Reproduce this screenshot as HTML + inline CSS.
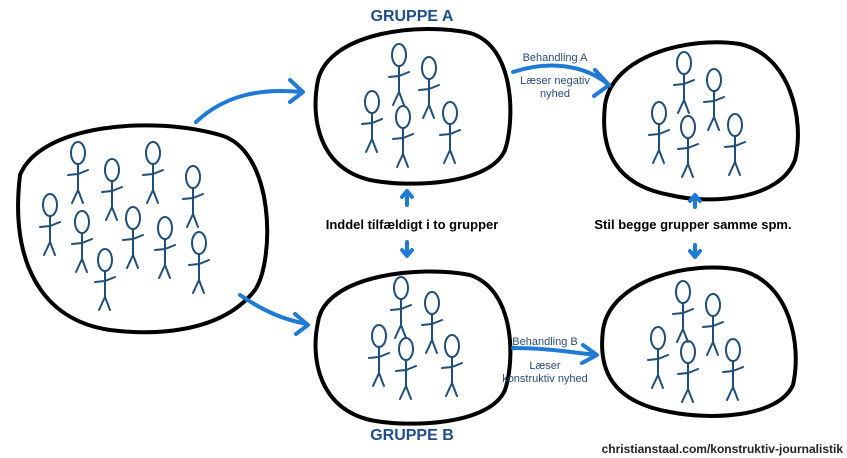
<!DOCTYPE html>
<html><head><meta charset="utf-8"><style>
html,body{margin:0;padding:0;background:#fff;width:847px;height:458px;overflow:hidden}
svg{display:block}
.t{font-family:"Liberation Sans",sans-serif}
</style></head><body>
<svg width="847" height="458" viewBox="0 0 847 458" xmlns="http://www.w3.org/2000/svg">
<defs>
<g id="f" fill="none" stroke="#1f4e79" stroke-width="2" stroke-linecap="round">
<ellipse cx="0" cy="0" rx="7" ry="11"/>
<path d="M0 11 L0 37 M-10 22 L0 21 L10 17 M0 37 L-6 50 M0 37 L5 50"/>
</g>
</defs>
<g fill="none" stroke="#000" stroke-width="4">
<path d="M20 175 C40 125 150 115 220 135 C275 150 275 260 255 290 C220 335 150 335 110 330 C40 320 10 260 20 175 Z"/>
<path d="M318 80 C330 32 420 22 470 33 C515 46 515 120 505 150 C490 185 410 188 370 180 C320 168 310 120 318 80 Z"/>
<path d="M318 322 C325 275 420 265 470 275 C515 290 515 360 505 390 C490 425 410 428 370 420 C320 408 310 360 318 322 Z"/>
<path d="M605 105 C612 55 690 36 740 44 C790 55 805 120 795 160 C780 200 710 205 670 195 C615 185 600 150 605 105 Z"/>
<path d="M603 330 C610 280 690 260 740 270 C790 282 802 345 793 385 C778 418 710 420 670 412 C612 402 598 370 603 330 Z"/>
</g>
<g>
<use href="#f" x="78" y="153"/><use href="#f" x="112" y="170"/><use href="#f" x="153" y="153"/><use href="#f" x="193" y="177"/>
<use href="#f" x="50" y="205"/><use href="#f" x="82" y="222"/><use href="#f" x="133" y="218"/><use href="#f" x="165" y="228"/>
<use href="#f" x="199" y="243"/><use href="#f" x="105" y="260"/>
<use href="#f" x="399" y="55"/><use href="#f" x="429" y="68"/><use href="#f" x="372" y="102"/><use href="#f" x="403" y="117"/><use href="#f" x="450" y="113"/>
<use href="#f" x="401" y="288"/><use href="#f" x="432" y="303"/><use href="#f" x="379" y="336"/><use href="#f" x="406" y="349"/><use href="#f" x="452" y="346"/>
<use href="#f" x="684" y="63"/><use href="#f" x="714" y="80"/><use href="#f" x="659" y="113"/><use href="#f" x="688" y="127"/><use href="#f" x="735" y="125"/>
<use href="#f" x="683" y="292"/><use href="#f" x="713" y="305"/><use href="#f" x="658" y="338"/><use href="#f" x="688" y="352"/><use href="#f" x="733" y="350"/>
</g>
<g fill="none" stroke="#1f7ad6" stroke-width="4" stroke-linecap="round" stroke-linejoin="round">
<path d="M196 122 C225 95 260 88 302 92 M290 80 L303 92 L290 102"/>
<path d="M240 295 C265 312 285 320 307 324 M295 314 L308 325 L296 334"/>
<path d="M513 72 C550 60 585 65 609 85 M595 70 L609 85 L594 96"/>
<path d="M513 348 C545 348 570 352 596 355 M583 345 L597 355 L582 363"/>
<path d="M407 205 L407 192 M402 197 L407 191 L412 197"/>
<path d="M407 242 L407 255 M402 250 L407 256 L412 250"/>
<path d="M695 207 L695 196 M690 201 L695 195 L700 201"/>
<path d="M695 245 L695 256 M690 251 L695 257 L700 251"/>
</g>
<g class="t">
<text x="412" y="21" text-anchor="middle" font-size="16" font-weight="bold" fill="#1f4e8c">GRUPPE A</text>
<text x="412" y="440" text-anchor="middle" font-size="16" font-weight="bold" fill="#1f4e8c">GRUPPE B</text>
<text x="412" y="229" text-anchor="middle" font-size="13" font-weight="bold" fill="#000">Inddel tilfældigt i to grupper</text>
<text x="693" y="229" text-anchor="middle" font-size="13" font-weight="bold" fill="#000">Stil begge grupper samme spm.</text>
<text x="555" y="61" text-anchor="middle" font-size="11" fill="#2a4d7a">Behandling A</text>
<text x="555" y="84" text-anchor="middle" font-size="11" fill="#2a4d7a">Læser negativ</text>
<text x="555" y="97" text-anchor="middle" font-size="11" fill="#2a4d7a">nyhed</text>
<text x="545" y="345" text-anchor="middle" font-size="11" fill="#2a4d7a">Behandling B</text>
<text x="545" y="369" text-anchor="middle" font-size="11" fill="#2a4d7a">Læser</text>
<text x="545" y="382" text-anchor="middle" font-size="11" fill="#2a4d7a">konstruktiv nyhed</text>
<text x="843" y="453" text-anchor="end" font-size="12" font-weight="bold" fill="#222">christianstaal.com/konstruktiv-journalistik</text>
</g>
</svg>
</body></html>
